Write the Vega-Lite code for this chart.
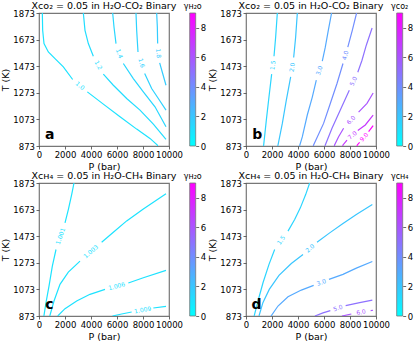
{
  "$schema": "https://vega.github.io/schema/vega-lite/v6.json",
  "background": "white",
  "padding": {"left": 0, "top": 0, "right": 0, "bottom": 0},
  "config": {
    "font": "DejaVu Sans",
    "view": {"stroke": "#777", "strokeWidth": 1.2},
    "axis": {"grid": false, "domain": false, "tickSize": 3, "tickColor": "#444", "tickWidth": 0.8, "labelFontSize": 8.5, "labelColor": "#000", "titleFontSize": 9.5, "titleFontWeight": "normal", "titleColor": "#000", "labelPadding": 1.5, "titlePadding": 2, "labelFlush": false, "labelOverlap": false, "format": "d"},
    "title": {"fontSize": 9.5, "fontWeight": "normal", "offset": -8, "color": "#000", "frame": "group"},
    "text": {"fontSize": 6, "align": "center", "baseline": "middle"}
  },
  "datasets": {
    "lines": [
      {"p":"a","s":"a1","v":1.0,"i":0,"P":256,"T":1873},{"p":"a","s":"a1","v":1.0,"i":1,"P":282,"T":1743},{"p":"a","s":"a1","v":1.0,"i":2,"P":385,"T":1643},{"p":"a","s":"a1","v":1.0,"i":3,"P":718,"T":1580},{"p":"a","s":"a1","v":1.0,"i":4,"P":1231,"T":1530},{"p":"a","s":"a1","v":1.0,"i":5,"P":1872,"T":1468},{"p":"a","s":"a1","v":1.0,"i":6,"P":2590,"T":1373},
      {"p":"a","s":"a2","v":1.0,"i":0,"P":3718,"T":1280},{"p":"a","s":"a2","v":1.0,"i":1,"P":4949,"T":1188},{"p":"a","s":"a2","v":1.0,"i":2,"P":6231,"T":1093},{"p":"a","s":"a2","v":1.0,"i":3,"P":7513,"T":1000},{"p":"a","s":"a2","v":1.0,"i":4,"P":8538,"T":930},{"p":"a","s":"a2","v":1.0,"i":5,"P":9103,"T":880},{"p":"a","s":"a2","v":1.0,"i":6,"P":9130,"T":873},
      {"p":"a","s":"a3","v":1.2,"i":0,"P":3410,"T":1873},{"p":"a","s":"a3","v":1.2,"i":1,"P":3538,"T":1743},{"p":"a","s":"a3","v":1.2,"i":2,"P":3795,"T":1643},{"p":"a","s":"a3","v":1.2,"i":3,"P":4179,"T":1548},
      {"p":"a","s":"a4","v":1.2,"i":0,"P":4949,"T":1413},{"p":"a","s":"a4","v":1.2,"i":1,"P":5718,"T":1330},{"p":"a","s":"a4","v":1.2,"i":2,"P":6743,"T":1230},{"p":"a","s":"a4","v":1.2,"i":3,"P":7769,"T":1143},{"p":"a","s":"a4","v":1.2,"i":4,"P":8795,"T":1038},{"p":"a","s":"a4","v":1.2,"i":5,"P":9769,"T":923},
      {"p":"a","s":"a5","v":1.4,"i":0,"P":5667,"T":1873},{"p":"a","s":"a5","v":1.4,"i":1,"P":5769,"T":1768},{"p":"a","s":"a5","v":1.4,"i":2,"P":5923,"T":1643},
      {"p":"a","s":"a6","v":1.4,"i":0,"P":6487,"T":1493},{"p":"a","s":"a6","v":1.4,"i":1,"P":7256,"T":1380},{"p":"a","s":"a6","v":1.4,"i":2,"P":8026,"T":1280},{"p":"a","s":"a6","v":1.4,"i":3,"P":8923,"T":1168},{"p":"a","s":"a6","v":1.4,"i":4,"P":9769,"T":1018},
      {"p":"a","s":"a7","v":1.6,"i":0,"P":7461,"T":1873},{"p":"a","s":"a7","v":1.6,"i":1,"P":7513,"T":1743},{"p":"a","s":"a7","v":1.6,"i":2,"P":7615,"T":1580},
      {"p":"a","s":"a8","v":1.6,"i":0,"P":8128,"T":1418},{"p":"a","s":"a8","v":1.6,"i":1,"P":8667,"T":1305},{"p":"a","s":"a8","v":1.6,"i":2,"P":9179,"T":1230},{"p":"a","s":"a8","v":1.6,"i":3,"P":9769,"T":1143},
      {"p":"a","s":"a9","v":1.8,"i":0,"P":9051,"T":1873},{"p":"a","s":"a9","v":1.8,"i":1,"P":9103,"T":1768},{"p":"a","s":"a9","v":1.8,"i":2,"P":9128,"T":1643},
      {"p":"a","s":"a10","v":1.8,"i":0,"P":9282,"T":1498},{"p":"a","s":"a10","v":1.8,"i":1,"P":9513,"T":1418},{"p":"a","s":"a10","v":1.8,"i":2,"P":9769,"T":1330},

      {"p":"b","s":"b1","v":1.5,"i":0,"P":2410,"T":1873},{"p":"b","s":"b1","v":1.5,"i":1,"P":2282,"T":1693},{"p":"b","s":"b1","v":1.5,"i":2,"P":2154,"T":1548},
      {"p":"b","s":"b2","v":1.5,"i":0,"P":1974,"T":1413},{"p":"b","s":"b2","v":1.5,"i":1,"P":1769,"T":1243},{"p":"b","s":"b2","v":1.5,"i":2,"P":1564,"T":1068},{"p":"b","s":"b2","v":1.5,"i":3,"P":1359,"T":880},{"p":"b","s":"b2","v":1.5,"i":4,"P":1340,"T":873},
      {"p":"b","s":"b3","v":2.0,"i":0,"P":3949,"T":1873},{"p":"b","s":"b3","v":2.0,"i":1,"P":3820,"T":1693},{"p":"b","s":"b3","v":2.0,"i":2,"P":3667,"T":1538},
      {"p":"b","s":"b4","v":2.0,"i":0,"P":3436,"T":1393},{"p":"b","s":"b4","v":2.0,"i":1,"P":3102,"T":1218},{"p":"b","s":"b4","v":2.0,"i":2,"P":2795,"T":1043},{"p":"b","s":"b4","v":2.0,"i":3,"P":2461,"T":880},{"p":"b","s":"b4","v":2.0,"i":4,"P":2440,"T":873},
      {"p":"b","s":"b5","v":3.0,"i":0,"P":6584,"T":1873},{"p":"b","s":"b5","v":3.0,"i":1,"P":6331,"T":1743},{"p":"b","s":"b5","v":3.0,"i":2,"P":6100,"T":1616},{"p":"b","s":"b5","v":3.0,"i":3,"P":5869,"T":1511},
      {"p":"b","s":"b6","v":3.0,"i":0,"P":5408,"T":1368},{"p":"b","s":"b6","v":3.0,"i":1,"P":5100,"T":1241},{"p":"b","s":"b6","v":3.0,"i":2,"P":4715,"T":1106},{"p":"b","s":"b6","v":3.0,"i":3,"P":4330,"T":941},{"p":"b","s":"b6","v":3.0,"i":4,"P":4120,"T":873},
      {"p":"b","s":"b7","v":4.0,"i":0,"P":8507,"T":1873},{"p":"b","s":"b7","v":4.0,"i":1,"P":8177,"T":1743},{"p":"b","s":"b7","v":4.0,"i":2,"P":7831,"T":1616},
      {"p":"b","s":"b8","v":4.0,"i":0,"P":7461,"T":1493},{"p":"b","s":"b8","v":4.0,"i":1,"P":7000,"T":1343},{"p":"b","s":"b8","v":4.0,"i":2,"P":6484,"T":1193},{"p":"b","s":"b8","v":4.0,"i":3,"P":5969,"T":1043},{"p":"b","s":"b8","v":4.0,"i":4,"P":5200,"T":881},{"p":"b","s":"b8","v":4.0,"i":5,"P":5180,"T":873},
      {"p":"b","s":"b9","v":5.0,"i":0,"P":9700,"T":1760},{"p":"b","s":"b9","v":5.0,"i":1,"P":9254,"T":1631},{"p":"b","s":"b9","v":5.0,"i":2,"P":8923,"T":1518},{"p":"b","s":"b9","v":5.0,"i":3,"P":8600,"T":1428},
      {"p":"b","s":"b10","v":5.0,"i":0,"P":7946,"T":1293},{"p":"b","s":"b10","v":5.0,"i":1,"P":7254,"T":1143},{"p":"b","s":"b10","v":5.0,"i":2,"P":6615,"T":1006},{"p":"b","s":"b10","v":5.0,"i":3,"P":6100,"T":881},{"p":"b","s":"b10","v":5.0,"i":4,"P":6080,"T":873},
      {"p":"b","s":"b11","v":6.0,"i":0,"P":9780,"T":1271},{"p":"b","s":"b11","v":6.0,"i":1,"P":9307,"T":1194},{"p":"b","s":"b11","v":6.0,"i":2,"P":8661,"T":1128},
      {"p":"b","s":"b12","v":6.0,"i":0,"P":7508,"T":1006},{"p":"b","s":"b12","v":6.0,"i":1,"P":7123,"T":943},{"p":"b","s":"b12","v":6.0,"i":2,"P":6815,"T":881},{"p":"b","s":"b12","v":6.0,"i":3,"P":6800,"T":873},
      {"p":"b","s":"b13","v":7.0,"i":0,"P":9780,"T":1106},{"p":"b","s":"b13","v":7.0,"i":1,"P":9177,"T":1031},{"p":"b","s":"b13","v":7.0,"i":2,"P":8600,"T":989},
      {"p":"b","s":"b14","v":7.0,"i":0,"P":7769,"T":918},{"p":"b","s":"b14","v":7.0,"i":1,"P":7461,"T":881},{"p":"b","s":"b14","v":7.0,"i":2,"P":7440,"T":873},
      {"p":"b","s":"b15","v":9.0,"i":0,"P":9780,"T":1027},{"p":"b","s":"b15","v":9.0,"i":1,"P":9431,"T":981},
      {"p":"b","s":"b16","v":9.0,"i":0,"P":8738,"T":900},{"p":"b","s":"b16","v":9.0,"i":1,"P":8560,"T":881},{"p":"b","s":"b16","v":9.0,"i":2,"P":8540,"T":873},

      {"p":"c","s":"c1","v":1.001,"i":0,"P":2692,"T":1873},{"p":"c","s":"c1","v":1.001,"i":1,"P":2513,"T":1786},{"p":"c","s":"c1","v":1.001,"i":2,"P":2256,"T":1673},{"p":"c","s":"c1","v":1.001,"i":3,"P":2000,"T":1573},
      {"p":"c","s":"c2","v":1.001,"i":0,"P":1308,"T":1373},{"p":"c","s":"c2","v":1.001,"i":1,"P":1026,"T":1248},{"p":"c","s":"c2","v":1.001,"i":2,"P":769,"T":1098},{"p":"c","s":"c2","v":1.001,"i":3,"P":538,"T":973},{"p":"c","s":"c2","v":1.001,"i":4,"P":385,"T":878},{"p":"c","s":"c2","v":1.001,"i":5,"P":370,"T":873},
      {"p":"c","s":"c3","v":1.003,"i":0,"P":830,"T":873},{"p":"c","s":"c3","v":1.003,"i":1,"P":1154,"T":986},{"p":"c","s":"c3","v":1.003,"i":2,"P":1615,"T":1111},{"p":"c","s":"c3","v":1.003,"i":3,"P":2256,"T":1203},{"p":"c","s":"c3","v":1.003,"i":4,"P":3154,"T":1286},
      {"p":"c","s":"c4","v":1.003,"i":0,"P":4820,"T":1428},{"p":"c","s":"c4","v":1.003,"i":1,"P":5718,"T":1503},{"p":"c","s":"c4","v":1.003,"i":2,"P":6743,"T":1588},{"p":"c","s":"c4","v":1.003,"i":3,"P":8026,"T":1678},{"p":"c","s":"c4","v":1.003,"i":4,"P":9769,"T":1793},
      {"p":"c","s":"c5","v":1.006,"i":0,"P":1440,"T":873},{"p":"c","s":"c5","v":1.006,"i":1,"P":2000,"T":928},{"p":"c","s":"c5","v":1.006,"i":2,"P":2897,"T":986},{"p":"c","s":"c5","v":1.006,"i":3,"P":3923,"T":1036},{"p":"c","s":"c5","v":1.006,"i":4,"P":5077,"T":1073},
      {"p":"c","s":"c6","v":1.006,"i":0,"P":6872,"T":1121},{"p":"c","s":"c6","v":1.006,"i":1,"P":8026,"T":1161},{"p":"c","s":"c6","v":1.006,"i":2,"P":9769,"T":1216},
      {"p":"c","s":"c7","v":1.009,"i":0,"P":5650,"T":873},{"p":"c","s":"c7","v":1.009,"i":1,"P":6359,"T":888},{"p":"c","s":"c7","v":1.009,"i":2,"P":7128,"T":903},
      {"p":"c","s":"c8","v":1.009,"i":0,"P":8795,"T":933},{"p":"c","s":"c8","v":1.009,"i":1,"P":9769,"T":946},

      {"p":"d","s":"d1","v":1.5,"i":0,"P":4897,"T":1873},{"p":"d","s":"d1","v":1.5,"i":1,"P":4590,"T":1786},{"p":"d","s":"d1","v":1.5,"i":2,"P":4179,"T":1686},{"p":"d","s":"d1","v":1.5,"i":3,"P":3743,"T":1598},{"p":"d","s":"d1","v":1.5,"i":4,"P":3231,"T":1511},
      {"p":"d","s":"d2","v":1.5,"i":0,"P":2205,"T":1373},{"p":"d","s":"d2","v":1.5,"i":1,"P":1769,"T":1261},{"p":"d","s":"d2","v":1.5,"i":2,"P":1308,"T":1123},{"p":"d","s":"d2","v":1.5,"i":3,"P":923,"T":986},{"p":"d","s":"d2","v":1.5,"i":4,"P":640,"T":878},{"p":"d","s":"d2","v":1.5,"i":5,"P":625,"T":873},
      {"p":"d","s":"d3","v":2.0,"i":0,"P":1000,"T":873},{"p":"d","s":"d3","v":2.0,"i":1,"P":1300,"T":973},{"p":"d","s":"d3","v":2.0,"i":2,"P":1790,"T":1073},{"p":"d","s":"d3","v":2.0,"i":3,"P":2538,"T":1178},{"p":"d","s":"d3","v":2.0,"i":4,"P":3487,"T":1268},{"p":"d","s":"d3","v":2.0,"i":5,"P":4385,"T":1336},
      {"p":"d","s":"d4","v":2.0,"i":0,"P":5461,"T":1428},{"p":"d","s":"d4","v":2.0,"i":1,"P":6436,"T":1498},{"p":"d","s":"d4","v":2.0,"i":2,"P":7461,"T":1568},{"p":"d","s":"d4","v":2.0,"i":3,"P":8487,"T":1636},{"p":"d","s":"d4","v":2.0,"i":4,"P":9718,"T":1711},
      {"p":"d","s":"d5","v":3.0,"i":0,"P":1930,"T":873},{"p":"d","s":"d5","v":3.0,"i":1,"P":2461,"T":948},{"p":"d","s":"d5","v":3.0,"i":2,"P":3231,"T":1018},{"p":"d","s":"d5","v":3.0,"i":3,"P":4256,"T":1068},{"p":"d","s":"d5","v":3.0,"i":4,"P":5205,"T":1103},
      {"p":"d","s":"d6","v":3.0,"i":0,"P":6384,"T":1148},{"p":"d","s":"d6","v":3.0,"i":1,"P":7461,"T":1186},{"p":"d","s":"d6","v":3.0,"i":2,"P":8487,"T":1233},{"p":"d","s":"d6","v":3.0,"i":3,"P":9718,"T":1283},
      {"p":"d","s":"d7","v":5.0,"i":0,"P":5300,"T":873},{"p":"d","s":"d7","v":5.0,"i":1,"P":5923,"T":896},{"p":"d","s":"d7","v":5.0,"i":2,"P":6487,"T":913},
      {"p":"d","s":"d8","v":5.0,"i":0,"P":7666,"T":951},{"p":"d","s":"d8","v":5.0,"i":1,"P":8743,"T":973},{"p":"d","s":"d8","v":5.0,"i":2,"P":9718,"T":993},
      {"p":"d","s":"d9","v":6.0,"i":0,"P":7380,"T":873},{"p":"d","s":"d9","v":6.0,"i":1,"P":8102,"T":888},
      {"p":"d","s":"d10","v":6.0,"i":0,"P":9589,"T":913},{"p":"d","s":"d10","v":6.0,"i":1,"P":9769,"T":916}
    ],
    "labels": [
      {"k":"a1","lab":"1.0","v":1.0,"P":3154,"T":1326},
      {"k":"a2","lab":"1.2","v":1.2,"P":4564,"T":1480},
      {"k":"a3","lab":"1.4","v":1.4,"P":6179,"T":1568},
      {"k":"a4","lab":"1.6","v":1.6,"P":7880,"T":1497},
      {"k":"a5","lab":"1.8","v":1.8,"P":9190,"T":1570},
      {"k":"b1","lab":"1.5","v":1.5,"P":2060,"T":1480},
      {"k":"b2","lab":"2.0","v":2.0,"P":3550,"T":1465},
      {"k":"b3","lab":"3.0","v":3.0,"P":5640,"T":1440},
      {"k":"b4","lab":"4.0","v":4.0,"P":7640,"T":1555},
      {"k":"b5","lab":"5.0","v":5.0,"P":8270,"T":1360},
      {"k":"b6","lab":"6.0","v":6.0,"P":8080,"T":1067},
      {"k":"b7","lab":"7.0","v":7.0,"P":8180,"T":953},
      {"k":"b8","lab":"9.0","v":9.0,"P":9080,"T":940},
      {"k":"c1","lab":"1.001","v":1.001,"P":1650,"T":1473},
      {"k":"c2","lab":"1.003","v":1.003,"P":3990,"T":1357},
      {"k":"c3","lab":"1.006","v":1.006,"P":5974,"T":1097},
      {"k":"c4","lab":"1.009","v":1.009,"P":7974,"T":918},
      {"k":"d1","lab":"1.5","v":1.5,"P":2700,"T":1443},
      {"k":"d2","lab":"2.0","v":2.0,"P":4923,"T":1382},
      {"k":"d3","lab":"3.0","v":3.0,"P":5795,"T":1125},
      {"k":"d4","lab":"5.0","v":5.0,"P":7077,"T":932},
      {"k":"d5","lab":"6.0","v":6.0,"P":8846,"T":901}
    ],
    "tags": [
      {"p":"a","tag":"a","P":820,"T":922},
      {"p":"b","tag":"b","P":860,"T":922},
      {"p":"c","tag":"c","P":800,"T":923},
      {"p":"d","tag":"d","P":815,"T":923}
    ],
    "bars": [
      {"p":"a","t":"γʜ₂ᴏ","lo":0,"hi":9,"x0":11592,"x1":12054,"xm":11823,"ty":9.3},
      {"p":"b","t":"γᴄᴏ₂","lo":0,"hi":9,"x0":11592,"x1":12054,"xm":11823,"ty":9.3},
      {"p":"c","t":"γʜ₂ᴏ","lo":0,"hi":9,"x0":11592,"x1":12054,"xm":11823,"ty":9.3},
      {"p":"d","t":"γᴄʜ₄","lo":0,"hi":9,"x0":11592,"x1":12054,"xm":11823,"ty":9.3}
    ]
  },
  "columns": 2,
  "spacing": {"row": 37, "column": 77},
  "bounds": "flush",
  "resolve": {"scale": {"color": "independent", "x": "independent", "y": "independent"}},
  "concat": [
    {
      "width": 130, "height": 133,
      "title": "Xᴄᴏ₂ = 0.05 in H₂O-CO₂ Binary",
      "resolve": {"scale": {"y": "independent"}},
      "layer": [
        {
          "encoding": {
            "x": {"field": "P", "type": "quantitative", "scale": {"domain": [0, 10000], "nice": false}, "axis": {"values": [0, 2000, 4000, 6000, 8000, 10000], "title": "P (bar)"}},
            "y": {"field": "T", "type": "quantitative", "scale": {"domain": [873, 1873], "nice": false, "zero": false}, "axis": {"orient": "left", "values": [873, 1073, 1273, 1473, 1673, 1873], "title": "T (K)"}},
            "color": {"field": "v", "type": "quantitative", "scale": {"domain": [0, 9], "range": ["#00ffff", "#ff00ff"], "interpolate": "rgb"}, "legend": null}
          },
          "layer": [
            {"data": {"name": "lines"}, "transform": [{"filter": "datum.p == 'a'"}], "mark": {"type": "line", "strokeWidth": 1.2, "clip": true}, "encoding": {"detail": {"field": "s"}, "order": {"field": "i", "type": "quantitative"}}},
            {"data": {"name": "labels"}, "transform": [{"filter": "datum.k == 'a1'"}], "mark": {"type": "text", "angle": 40}, "encoding": {"text": {"field": "lab"}}},
            {"data": {"name": "labels"}, "transform": [{"filter": "datum.k == 'a2'"}], "mark": {"type": "text", "angle": 61}, "encoding": {"text": {"field": "lab"}}},
            {"data": {"name": "labels"}, "transform": [{"filter": "datum.k == 'a3'"}], "mark": {"type": "text", "angle": 70}, "encoding": {"text": {"field": "lab"}}},
            {"data": {"name": "labels"}, "transform": [{"filter": "datum.k == 'a4'"}], "mark": {"type": "text", "angle": 73}, "encoding": {"text": {"field": "lab"}}},
            {"data": {"name": "labels"}, "transform": [{"filter": "datum.k == 'a5'"}], "mark": {"type": "text", "angle": 84}, "encoding": {"text": {"field": "lab"}}},
            {"data": {"name": "tags"}, "transform": [{"filter": "datum.p == 'a'"}], "mark": {"type": "text", "fontSize": 14, "fontWeight": "bold", "baseline": "alphabetic"}, "encoding": {"text": {"field": "tag"}, "color": {"value": "black"}}}
          ]
        },
        {
          "data": {"name": "bars"}, "transform": [{"filter": "datum.p == 'a'"}],
          "encoding": {
            "x": {"field": "x0", "type": "quantitative", "scale": {"domain": [0, 10000], "nice": false}, "axis": {"values": [0, 2000, 4000, 6000, 8000, 10000], "title": "P (bar)"}},
            "y": {"field": "lo", "type": "quantitative", "scale": {"domain": [0, 9], "nice": false, "zero": false}, "axis": {"orient": "right", "values": [0, 2, 4, 6, 8], "title": null, "offset": 26.7}}
          },
          "layer": [
            {"mark": {"type": "rect", "stroke": "#777", "strokeWidth": 0.8, "fill": {"gradient": "linear", "x1": 0, "y1": 1, "x2": 0, "y2": 0, "stops": [{"offset": 0, "color": "#00ffff"}, {"offset": 1, "color": "#ff00ff"}]}}, "encoding": {"x2": {"field": "x1"}, "y2": {"field": "hi"}}},
            {"mark": {"type": "text", "fontSize": 8, "baseline": "alphabetic"}, "encoding": {
              "x": {"field": "xm", "type": "quantitative", "scale": {"domain": [0, 10000], "nice": false}, "axis": {"values": [0, 2000, 4000, 6000, 8000, 10000], "title": "P (bar)"}},
              "y": {"field": "ty", "type": "quantitative", "scale": {"domain": [0, 9], "nice": false, "zero": false}, "axis": {"orient": "right", "values": [0, 2, 4, 6, 8], "title": null, "offset": 26.7}},
              "text": {"field": "t"}}}
          ]
        }
      ]
    },
    {
      "width": 130, "height": 133,
      "title": "Xᴄᴏ₂ = 0.05 in H₂O-CO₂ Binary",
      "resolve": {"scale": {"y": "independent"}},
      "layer": [
        {
          "encoding": {
            "x": {"field": "P", "type": "quantitative", "scale": {"domain": [0, 10000], "nice": false}, "axis": {"values": [0, 2000, 4000, 6000, 8000, 10000], "title": "P (bar)"}},
            "y": {"field": "T", "type": "quantitative", "scale": {"domain": [873, 1873], "nice": false, "zero": false}, "axis": {"orient": "left", "values": [873, 1073, 1273, 1473, 1673, 1873], "title": "T (K)"}},
            "color": {"field": "v", "type": "quantitative", "scale": {"domain": [0, 9], "range": ["#00ffff", "#ff00ff"], "interpolate": "rgb"}, "legend": null}
          },
          "layer": [
            {"data": {"name": "lines"}, "transform": [{"filter": "datum.p == 'b'"}], "mark": {"type": "line", "strokeWidth": 1.2, "clip": true}, "encoding": {"detail": {"field": "s"}, "order": {"field": "i", "type": "quantitative"}}},
            {"data": {"name": "labels"}, "transform": [{"filter": "datum.k == 'b1'"}], "mark": {"type": "text", "angle": -83}, "encoding": {"text": {"field": "lab"}}},
            {"data": {"name": "labels"}, "transform": [{"filter": "datum.k == 'b2'"}], "mark": {"type": "text", "angle": -81}, "encoding": {"text": {"field": "lab"}}},
            {"data": {"name": "labels"}, "transform": [{"filter": "datum.k == 'b3'"}], "mark": {"type": "text", "angle": -72}, "encoding": {"text": {"field": "lab"}}},
            {"data": {"name": "labels"}, "transform": [{"filter": "datum.k == 'b4'"}], "mark": {"type": "text", "angle": -74}, "encoding": {"text": {"field": "lab"}}},
            {"data": {"name": "labels"}, "transform": [{"filter": "datum.k == 'b5'"}], "mark": {"type": "text", "angle": -65}, "encoding": {"text": {"field": "lab"}}},
            {"data": {"name": "labels"}, "transform": [{"filter": "datum.k == 'b6'"}], "mark": {"type": "text", "angle": -47}, "encoding": {"text": {"field": "lab"}}},
            {"data": {"name": "labels"}, "transform": [{"filter": "datum.k == 'b7'"}], "mark": {"type": "text", "angle": -41}, "encoding": {"text": {"field": "lab"}}},
            {"data": {"name": "labels"}, "transform": [{"filter": "datum.k == 'b8'"}], "mark": {"type": "text", "angle": -50}, "encoding": {"text": {"field": "lab"}}},
            {"data": {"name": "tags"}, "transform": [{"filter": "datum.p == 'b'"}], "mark": {"type": "text", "fontSize": 14, "fontWeight": "bold", "baseline": "alphabetic"}, "encoding": {"text": {"field": "tag"}, "color": {"value": "black"}}}
          ]
        },
        {
          "data": {"name": "bars"}, "transform": [{"filter": "datum.p == 'b'"}],
          "encoding": {
            "x": {"field": "x0", "type": "quantitative", "scale": {"domain": [0, 10000], "nice": false}, "axis": {"values": [0, 2000, 4000, 6000, 8000, 10000], "title": "P (bar)"}},
            "y": {"field": "lo", "type": "quantitative", "scale": {"domain": [0, 9], "nice": false, "zero": false}, "axis": {"orient": "right", "values": [0, 2, 4, 6, 8], "title": null, "offset": 26.7}}
          },
          "layer": [
            {"mark": {"type": "rect", "stroke": "#777", "strokeWidth": 0.8, "fill": {"gradient": "linear", "x1": 0, "y1": 1, "x2": 0, "y2": 0, "stops": [{"offset": 0, "color": "#00ffff"}, {"offset": 1, "color": "#ff00ff"}]}}, "encoding": {"x2": {"field": "x1"}, "y2": {"field": "hi"}}},
            {"mark": {"type": "text", "fontSize": 8, "baseline": "alphabetic"}, "encoding": {
              "x": {"field": "xm", "type": "quantitative", "scale": {"domain": [0, 10000], "nice": false}, "axis": {"values": [0, 2000, 4000, 6000, 8000, 10000], "title": "P (bar)"}},
              "y": {"field": "ty", "type": "quantitative", "scale": {"domain": [0, 9], "nice": false, "zero": false}, "axis": {"orient": "right", "values": [0, 2, 4, 6, 8], "title": null, "offset": 26.7}},
              "text": {"field": "t"}}}
          ]
        }
      ]
    },
    {
      "width": 130, "height": 133,
      "title": "Xᴄʜ₄ = 0.05 in H₂O-CH₄ Binary",
      "resolve": {"scale": {"y": "independent"}},
      "layer": [
        {
          "encoding": {
            "x": {"field": "P", "type": "quantitative", "scale": {"domain": [0, 10000], "nice": false}, "axis": {"values": [0, 2000, 4000, 6000, 8000, 10000], "title": "P (bar)"}},
            "y": {"field": "T", "type": "quantitative", "scale": {"domain": [873, 1873], "nice": false, "zero": false}, "axis": {"orient": "left", "values": [873, 1073, 1273, 1473, 1673, 1873], "title": "T (K)"}},
            "color": {"field": "v", "type": "quantitative", "scale": {"domain": [0, 9], "range": ["#00ffff", "#ff00ff"], "interpolate": "rgb"}, "legend": null}
          },
          "layer": [
            {"data": {"name": "lines"}, "transform": [{"filter": "datum.p == 'c'"}], "mark": {"type": "line", "strokeWidth": 1.2, "clip": true}, "encoding": {"detail": {"field": "s"}, "order": {"field": "i", "type": "quantitative"}}},
            {"data": {"name": "labels"}, "transform": [{"filter": "datum.k == 'c1'"}], "mark": {"type": "text", "angle": -71}, "encoding": {"text": {"field": "lab"}}},
            {"data": {"name": "labels"}, "transform": [{"filter": "datum.k == 'c2'"}], "mark": {"type": "text", "angle": -41}, "encoding": {"text": {"field": "lab"}}},
            {"data": {"name": "labels"}, "transform": [{"filter": "datum.k == 'c3'"}], "mark": {"type": "text", "angle": -15}, "encoding": {"text": {"field": "lab"}}},
            {"data": {"name": "labels"}, "transform": [{"filter": "datum.k == 'c4'"}], "mark": {"type": "text", "angle": -10}, "encoding": {"text": {"field": "lab"}}},
            {"data": {"name": "tags"}, "transform": [{"filter": "datum.p == 'c'"}], "mark": {"type": "text", "fontSize": 14, "fontWeight": "bold", "baseline": "alphabetic"}, "encoding": {"text": {"field": "tag"}, "color": {"value": "black"}}}
          ]
        },
        {
          "data": {"name": "bars"}, "transform": [{"filter": "datum.p == 'c'"}],
          "encoding": {
            "x": {"field": "x0", "type": "quantitative", "scale": {"domain": [0, 10000], "nice": false}, "axis": {"values": [0, 2000, 4000, 6000, 8000, 10000], "title": "P (bar)"}},
            "y": {"field": "lo", "type": "quantitative", "scale": {"domain": [0, 9], "nice": false, "zero": false}, "axis": {"orient": "right", "values": [0, 2, 4, 6, 8], "title": null, "offset": 26.7}}
          },
          "layer": [
            {"mark": {"type": "rect", "stroke": "#777", "strokeWidth": 0.8, "fill": {"gradient": "linear", "x1": 0, "y1": 1, "x2": 0, "y2": 0, "stops": [{"offset": 0, "color": "#00ffff"}, {"offset": 1, "color": "#ff00ff"}]}}, "encoding": {"x2": {"field": "x1"}, "y2": {"field": "hi"}}},
            {"mark": {"type": "text", "fontSize": 8, "baseline": "alphabetic"}, "encoding": {
              "x": {"field": "xm", "type": "quantitative", "scale": {"domain": [0, 10000], "nice": false}, "axis": {"values": [0, 2000, 4000, 6000, 8000, 10000], "title": "P (bar)"}},
              "y": {"field": "ty", "type": "quantitative", "scale": {"domain": [0, 9], "nice": false, "zero": false}, "axis": {"orient": "right", "values": [0, 2, 4, 6, 8], "title": null, "offset": 26.7}},
              "text": {"field": "t"}}}
          ]
        }
      ]
    },
    {
      "width": 130, "height": 133,
      "title": "Xᴄʜ₄ = 0.05 in H₂O-CH₄ Binary",
      "resolve": {"scale": {"y": "independent"}},
      "layer": [
        {
          "encoding": {
            "x": {"field": "P", "type": "quantitative", "scale": {"domain": [0, 10000], "nice": false}, "axis": {"values": [0, 2000, 4000, 6000, 8000, 10000], "title": "P (bar)"}},
            "y": {"field": "T", "type": "quantitative", "scale": {"domain": [873, 1873], "nice": false, "zero": false}, "axis": {"orient": "left", "values": [873, 1073, 1273, 1473, 1673, 1873], "title": "T (K)"}},
            "color": {"field": "v", "type": "quantitative", "scale": {"domain": [0, 9], "range": ["#00ffff", "#ff00ff"], "interpolate": "rgb"}, "legend": null}
          },
          "layer": [
            {"data": {"name": "lines"}, "transform": [{"filter": "datum.p == 'd'"}], "mark": {"type": "line", "strokeWidth": 1.2, "clip": true}, "encoding": {"detail": {"field": "s"}, "order": {"field": "i", "type": "quantitative"}}},
            {"data": {"name": "labels"}, "transform": [{"filter": "datum.k == 'd1'"}], "mark": {"type": "text", "angle": -54}, "encoding": {"text": {"field": "lab"}}},
            {"data": {"name": "labels"}, "transform": [{"filter": "datum.k == 'd2'"}], "mark": {"type": "text", "angle": -41}, "encoding": {"text": {"field": "lab"}}},
            {"data": {"name": "labels"}, "transform": [{"filter": "datum.k == 'd3'"}], "mark": {"type": "text", "angle": -21}, "encoding": {"text": {"field": "lab"}}},
            {"data": {"name": "labels"}, "transform": [{"filter": "datum.k == 'd4'"}], "mark": {"type": "text", "angle": -18}, "encoding": {"text": {"field": "lab"}}},
            {"data": {"name": "labels"}, "transform": [{"filter": "datum.k == 'd5'"}], "mark": {"type": "text", "angle": -10}, "encoding": {"text": {"field": "lab"}}},
            {"data": {"name": "tags"}, "transform": [{"filter": "datum.p == 'd'"}], "mark": {"type": "text", "fontSize": 14, "fontWeight": "bold", "baseline": "alphabetic"}, "encoding": {"text": {"field": "tag"}, "color": {"value": "black"}}}
          ]
        },
        {
          "data": {"name": "bars"}, "transform": [{"filter": "datum.p == 'd'"}],
          "encoding": {
            "x": {"field": "x0", "type": "quantitative", "scale": {"domain": [0, 10000], "nice": false}, "axis": {"values": [0, 2000, 4000, 6000, 8000, 10000], "title": "P (bar)"}},
            "y": {"field": "lo", "type": "quantitative", "scale": {"domain": [0, 9], "nice": false, "zero": false}, "axis": {"orient": "right", "values": [0, 2, 4, 6, 8], "title": null, "offset": 26.7}}
          },
          "layer": [
            {"mark": {"type": "rect", "stroke": "#777", "strokeWidth": 0.8, "fill": {"gradient": "linear", "x1": 0, "y1": 1, "x2": 0, "y2": 0, "stops": [{"offset": 0, "color": "#00ffff"}, {"offset": 1, "color": "#ff00ff"}]}}, "encoding": {"x2": {"field": "x1"}, "y2": {"field": "hi"}}},
            {"mark": {"type": "text", "fontSize": 8, "baseline": "alphabetic"}, "encoding": {
              "x": {"field": "xm", "type": "quantitative", "scale": {"domain": [0, 10000], "nice": false}, "axis": {"values": [0, 2000, 4000, 6000, 8000, 10000], "title": "P (bar)"}},
              "y": {"field": "ty", "type": "quantitative", "scale": {"domain": [0, 9], "nice": false, "zero": false}, "axis": {"orient": "right", "values": [0, 2, 4, 6, 8], "title": null, "offset": 26.7}},
              "text": {"field": "t"}}}
          ]
        }
      ]
    }
  ]
}
